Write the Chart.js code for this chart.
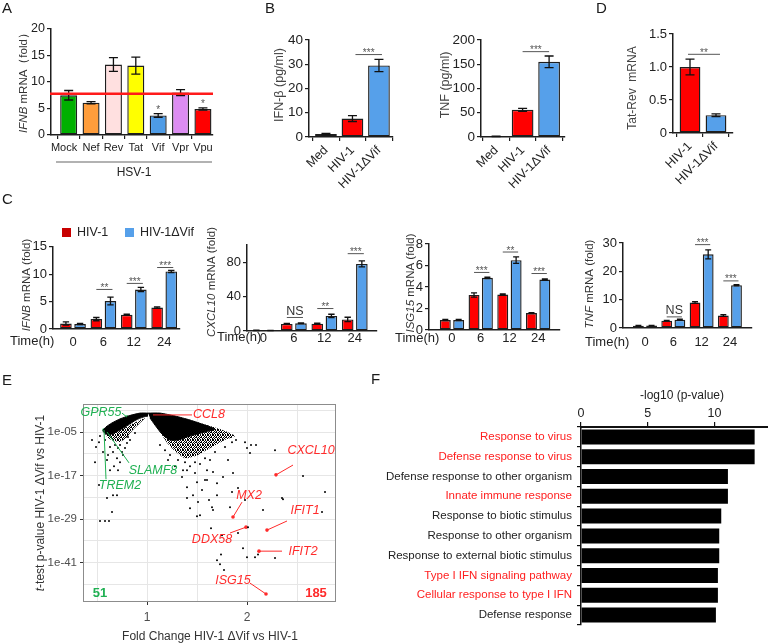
<!DOCTYPE html>
<html>
<head>
<meta charset="utf-8">
<title>HIV-1 Vif and innate responses</title>
<script src="https://cdn.jsdelivr.net/npm/chart.js@4.4.1/dist/chart.umd.min.js"></script>
<style>
  html, body { margin: 0; padding: 0; background: #fff; }
  #fig { position: relative; width: 768px; height: 644px; overflow: hidden; font-family: "Liberation Sans", Arial, sans-serif; }
  #fig canvas { position: absolute; left: 0; top: 0; }
  .tag { position: absolute; font-size: 15px; line-height: 15px; color: #1a1a1a; }
</style>
</head>
<body>
<div id="fig">
  <canvas id="chartA" width="768" height="644"></canvas>
  <canvas id="chartB1" width="768" height="644"></canvas>
  <canvas id="chartB2" width="768" height="644"></canvas>
  <canvas id="chartD" width="768" height="644"></canvas>
  <canvas id="chartC1" width="768" height="644"></canvas>
  <canvas id="chartC2" width="768" height="644"></canvas>
  <canvas id="chartC3" width="768" height="644"></canvas>
  <canvas id="chartC4" width="768" height="644"></canvas>
  <canvas id="chartE" width="768" height="644"></canvas>
  <canvas id="chartF" width="768" height="644"></canvas>
  <div class="tag" style="left:2px;top:0px">A</div>
  <div class="tag" style="left:265px;top:0px">B</div>
  <div class="tag" style="left:596px;top:0px">D</div>
  <div class="tag" style="left:2px;top:191px">C</div>
  <div class="tag" style="left:2px;top:372px">E</div>
  <div class="tag" style="left:371px;top:371px">F</div>
</div>
<script>
// ═══ Data ═══

// A — IFNB after HSV-1, single accessory proteins
const aCats = ['Mock', 'Nef', 'Rev', 'Tat', 'Vif', 'Vpr', 'Vpu'];
const aFold = [7.5, 6.1, 13.3, 13.1, 3.7, 8.0, 4.9];
const aSem = [0.9, 0.2, 1.3, 1.6, 0.35, 0.55, 0.2];
const aStars = ['', '', '', '', '*', '', '*'];
const aMockLevel = 7.8;

// B — secreted cytokines
const bCats = ['Med', 'HIV-1', 'HIV-1ΔVif'];
const bIfnb = [1.2, 7.6, 29.5];
const bIfnbSem = [0.3, 1.2, 2.5];
const bTnf = [1.5, 56, 155];
const bTnfSem = [0.5, 3, 12];

// D — Tat-Rev transcripts
const dCats = ['HIV-1', 'HIV-1ΔVif'];
const dTatRev = [1.0, 0.27];
const dTatRevSem = [0.12, 0.02];

// C — time course (HIV-1 vs HIV-1ΔVif)
const cTimes = ['0', '6', '12', '24'];
const cIfnbWt = [1.0, 1.8, 2.6, 3.9];
const cIfnbWtSem = [0.3, 0.3, 0.1, 0.15];
const cIfnbDv = [0.9, 5.1, 7.2, 10.5];
const cIfnbDvSem = [0.1, 0.7, 0.4, 0.2];
const cIfnbSig = ['', '**', '***', '***'];
const cIfnbSigAt = [0, 7.3, 8.4, 11.3];

const cCxclWt = [0.8, 8.2, 8.5, 13.5];
const cCxclWtSem = [0.2, 0.5, 0.5, 2.5];
const cCxclDv = [0.6, 9.0, 17.5, 78];
const cCxclDvSem = [0.1, 0.5, 2, 3.5];
const cCxclSig = ['', 'NS', '**', '***'];
const cCxclSigAt = [0, 16.3, 26.7, 90.5];

const cIsgWt = [0.93, 3.26, 3.3, 1.57];
const cIsgWtSem = [0.06, 0.2, 0.05, 0.05];
const cIsgDv = [0.93, 4.85, 6.5, 4.7];
const cIsgDvSem = [0.05, 0.06, 0.3, 0.06];
const cIsgSig = ['', '***', '**', '***'];
const cIsgSigAt = [0, 5.4, 7.3, 5.3];

const cTnfWt = [0.8, 2.6, 9.0, 4.4];
const cTnfWtSem = [0.1, 0.1, 0.3, 0.3];
const cTnfDv = [0.85, 2.9, 26, 15.1];
const cTnfDvSem = [0.1, 0.2, 1.6, 0.2];
const cTnfSig = ['', 'NS', '***', '***'];
const cTnfSigAt = [0, 4.1, 29.6, 16.8];

// E — volcano: fold change vs log10 t-test p-value
// saturated core of the cloud (two arms) and the dotted fans around it
const eLeftCoreFC = [1.01, 0.93, 0.83, 0.73, 0.65, 0.59, 0.56, 0.59, 0.65, 0.73, 0.81, 0.89, 0.96, 1.01];
const eLeftCoreLogP = [0.2, 0.2, -0.45, -1.4, -2.5, -3.6, -4.7, -5.55, -5.55, -4.45, -3.1, -1.7, -0.9, -0.6];
const eLeftFanFC = [0.57, 0.61, 0.67, 0.73, 0.79, 0.85, 0.92, 0.98, 0.91, 0.81, 0.71, 0.63];
const eLeftFanLogP = [-5.0, -6.65, -7.5, -7.75, -6.65, -4.7, -2.8, -1.15, -2.0, -3.35, -4.7, -5.55];
const eRightCoreFC = [1.01, 1.13, 1.28, 1.43, 1.58, 1.68, 1.58, 1.43, 1.31, 1.23, 1.15, 1.08, 1.03];
const eRightCoreLogP = [0.2, 0.2, -0.6, -1.7, -3.1, -4.2, -5.0, -6.1, -7.2, -7.2, -5.55, -3.1, -1.15];
const eRightFanFC = [1.28, 1.53, 1.73, 1.88, 1.78, 1.65, 1.51, 1.38, 1.29, 1.21, 1.13, 1.07];
const eRightFanLogP = [-0.9, -2.5, -4.2, -6.1, -7.2, -9.1, -11.3, -12.2, -10.5, -8.3, -5.0, -2.25];
// scattered genes
const eDotFC = [0.49, 0.52, 0.48, 0.60, 0.56, 0.63, 0.66, 0.68, 0.71, 0.73, 0.75, 0.78, 0.80, 0.83, 0.70, 0.73, 0.67, 0.63, 0.71, 0.76,
  0.58, 0.53, 0.45, 0.61, 0.52, 0.60, 0.66, 0.70, 0.65, 0.53, 0.58, 0.62, 0.88, 0.81,
  1.89, 1.85, 1.78, 1.68, 1.58, 1.48, 1.38, 1.31, 1.43, 1.53, 1.63, 1.23, 1.18, 1.13, 1.36, 1.40, 1.48, 1.60, 1.66, 1.76,
  1.86, 1.35, 1.50, 1.60, 1.70, 1.40, 1.91, 1.85, 1.46, 1.70, 1.40, 1.62, 1.51, 1.65, 1.66, 1.53, 1.50, 1.64, 1.91, 1.75,
  1.96, 2.08, 2.11, 2.00, 1.74, 1.70, 1.73, 1.77, 1.98, 2.00, 2.03, 2.04, 2.09, 2.28, 2.56, 2.78, 2.35, 2.36, 2.16, 2.75,
  2.28, 1.43, 1.98, 2.01, 1.55, 1.58, 1.83, 1.81, 1.28, 1.21];
const eDotLogP = [-9.1, -7.8, -13.3, -12.7, -10.5, -9.1, -10.5, -8.6, -9.4, -8.6, -10.5, -9.4, -8.0, -7.2, -12.2, -13.3, -14.4, -15.5, -15.5, -11.3,
  -7.2, -6.1, -7.2, -11.3, -19.6, -23.2, -22.4, -22.4, -27.0, -29.5, -29.5, -29.5, -5.3, -6.4,
  -7.2, -7.8, -9.1, -10.5, -12.2, -13.3, -13.3, -12.7, -14.4, -13.8, -12.7, -11.3, -10.0, -8.6, -15.5, -15.5, -16.3, -15.5, -16.0, -17.4,
  -16.3, -17.4, -18.8, -18.2, -19.1, -20.2, -20.4, -21.5, -22.4, -22.4, -23.2, -23.7, -24.3, -25.7, -26.5, -27.9, -28.2, -31.5, -32.8, -33.4,
  -37.0, -39.5, -38.7, -39.5, -38.7, -40.3, -41.4, -43.0, -7.8, -9.4, -10.8, -8.6, -8.6, -10.0, -17.1, -21.5, -23.2, -23.5, -26.5, -27.0,
  -39.7, -26.0, -23.7, -31.2, -21.0, -18.2, -25.7, -12.7, -14.4, -12.7];
// named genes
const eGenes = ['CCL8', 'MX2', 'DDX58', 'IFIT1', 'IFIT2', 'ISG15', 'CXCL10', 'GPR55', 'SLAMF8', 'TREM2'];
const eGeneFC = [1.06, 1.86, 1.99, 2.20, 2.12, 2.19, 2.29, 0.80, 0.60, 0.57];
const eGeneLogP = [-0.3, -28.4, -31.2, -32.0, -37.8, -49.6, -16.8, -0.9, -5.0, -4.45];
const eGeneUp = [true, true, true, true, true, true, true, false, false, false];
const eCountDown = '51';
const eCountUp = '185';
const eXGrid = [0.5, 1, 1.5, 2, 2.5];
const eXLabels = [1, 2];
const eYGrid = [-47, -41, -35, -29, -23, -17, -11, -5, 1];
const eYLabels = [-41, -29, -17, -5];

// F — GO enrichment
const fTerms = ['Response to virus', 'Defense response to virus', 'Defense response to other organism',
  'Innate immune response', 'Response to biotic stimulus', 'Response to other organism',
  'Response to external biotic stimulus', 'Type I IFN signaling pathway', 'Cellular response to type I IFN',
  'Defense response'];
const fLogP = [13.0, 13.0, 11.0, 11.0, 10.5, 10.35, 10.35, 10.25, 10.25, 10.1];
const fIfnRelated = [true, true, false, true, false, false, false, true, true, false];
const fTicks = [0, 5, 10];

// ═══ Style ═══
const FONT = '"Liberation Sans", Arial, sans-serif';
const COLORS = {
  axis: '#1e1e1e',
  text: '#222',
  title: '#333',
  wt: '#ff0000',
  wtKey: '#c80000',
  dvif: '#56a0ea',
  aBars: ['#00b000', '#ff9d3c', '#ffe0e0', '#ffff00', '#4d9be6', '#dc8cf2', '#ff0000'],
  bBars: ['#ffff99', '#ff0000', '#56a0ea'],
  up: '#ff2b2b',
  down: '#1fb052',
  grid: '#e6e6e6',
  frame: '#8c8c8c',
};

Chart.defaults.font.family = FONT;
Chart.defaults.color = COLORS.text;
Chart.defaults.animation = false;
Chart.defaults.plugins.legend.display = false;
Chart.defaults.plugins.tooltip.enabled = false;

// ─── helpers ───
function richText(ctx, segs, x, y, o = {}) {
  const size = o.size || 12;
  ctx.save();
  ctx.translate(x, y);
  ctx.rotate(o.rot || 0);
  ctx.textBaseline = 'middle';
  ctx.textAlign = 'left';
  ctx.fillStyle = o.color || COLORS.title;
  const fonts = segs.map(s => (s[1] ? 'italic ' : '') + (o.bold ? 'bold ' : '') + size + 'px ' + FONT);
  let total = 0;
  const widths = segs.map((s, i) => { ctx.font = fonts[i]; const w = ctx.measureText(s[0]).width; total += w; return w; });
  let cx = o.align === 'left' ? 0 : o.align === 'right' ? -total : -total / 2;
  segs.forEach((s, i) => { ctx.font = fonts[i]; ctx.fillText(s[0], cx, 0); cx += widths[i]; });
  ctx.restore();
}

function drawSig(ctx, x1, x2, y, text) {
  ctx.save();
  ctx.strokeStyle = '#555';
  ctx.lineWidth = 1;
  ctx.beginPath();
  ctx.moveTo(x1, y + 0.5);
  ctx.lineTo(x2, y + 0.5);
  ctx.stroke();
  ctx.textAlign = 'center';
  ctx.textBaseline = 'alphabetic';
  if (text === 'NS') {
    ctx.fillStyle = '#333';
    ctx.font = '12.5px ' + FONT;
    ctx.fillText(text, (x1 + x2) / 2, y - 2);
  } else {
    ctx.fillStyle = '#555';
    ctx.font = '10px ' + FONT;
    ctx.fillText(text, (x1 + x2) / 2, y + 2);
  }
  ctx.restore();
}

function errorBars(sems) {
  return {
    id: 'errorBars',
    afterDatasetsDraw(chart) {
      const ctx = chart.ctx, y = chart.scales.y;
      sems.forEach((errs, di) => {
        const meta = chart.getDatasetMeta(di);
        const data = chart.data.datasets[di].data;
        meta.data.forEach((bar, i) => {
          const v = data[i].y, e = errs[i];
          if (!e) return;
          const top = y.getPixelForValue(v + e);
          const bot = y.getPixelForValue(Math.max(0, v - e));
          const cap = Math.min(9, bar.width * 0.55) / 2;
          ctx.save();
          ctx.strokeStyle = '#111';
          ctx.lineWidth = 1.3;
          ctx.beginPath();
          ctx.moveTo(bar.x, top); ctx.lineTo(bar.x, bot);
          ctx.moveTo(bar.x - cap, top); ctx.lineTo(bar.x + cap, top);
          ctx.moveTo(bar.x - cap, bot); ctx.lineTo(bar.x + cap, bot);
          ctx.stroke();
          ctx.restore();
        });
      });
    }
  };
}

function groupSig(marks, levels) {
  return {
    id: 'groupSig',
    afterDatasetsDraw(chart) {
      const ctx = chart.ctx, y = chart.scales.y;
      const m0 = chart.getDatasetMeta(0).data, m1 = chart.getDatasetMeta(1).data;
      marks.forEach((t, g) => {
        if (!t) return;
        drawSig(ctx, m0[g].x, m1[g].x + 2, y.getPixelForValue(levels[g]), t);
      });
    }
  };
}

function barSet(values, color, extra) {
  return Object.assign({
    data: values.map((v, i) => ({ x: i, y: v })),
    backgroundColor: color,
    borderColor: COLORS.axis,
    borderWidth: 1.4,
    borderSkipped: false,
  }, extra);
}

// plot = page coordinates of the plotting area (canvases cover the whole page)
function barPanel(canvasId, cfg) {
  const p = cfg.plot;
  return new Chart(document.getElementById(canvasId), {
    type: 'bar',
    data: { datasets: cfg.datasets },
    options: {
      responsive: false,
      layout: { autoPadding: false, padding: { left: 0, top: p.t, right: 768 - p.r, bottom: 0 } },
      scales: {
        x: {
          type: 'linear', min: cfg.xMin, max: cfg.xMax, offset: false,
          afterFit: s => { s.height = 644 - p.b; },
          afterBuildTicks: s => { s.ticks = cfg.cats.map((c, i) => ({ value: i })); },
          grid: { drawOnChartArea: false, drawTicks: !!cfg.xTickMarks, tickLength: 4, color: COLORS.axis, lineWidth: 1.2 },
          border: { color: COLORS.axis, width: 1.5 },
          ticks: {
            autoSkip: false, callback: cfg.xLabel || (v => cfg.cats[v]), font: { size: cfg.xFont }, color: COLORS.text,
            padding: cfg.xPad, minRotation: cfg.rot || 0, maxRotation: cfg.rot || 0
          }
        },
        y: {
          min: 0, max: cfg.yMax,
          afterFit: s => { s.width = p.l; },
          ticks: { stepSize: cfg.yStep, font: { size: cfg.yFont }, color: COLORS.text, padding: 2, callback: cfg.yFmt || (v => v) },
          grid: { drawOnChartArea: false, tickLength: 4, color: COLORS.axis, lineWidth: 1.2 },
          border: { color: COLORS.axis, width: 1.5 }
        }
      }
    },
    plugins: cfg.plugins
  });
}

// ─── A ─── //
barPanel('chartA', {
  plot: { l: 51, r: 213, t: 29, b: 135 },
  cats: aCats, xMin: -0.79, xMax: 6.45, xTickMarks: true, xFont: 11, xPad: 2,
  // first label sits a little left of its bar in the original
  xLabel: v => (v === 0 ? aCats[0] + '   ' : aCats[v]),
  yMax: 20, yStep: 5, yFont: 12.5,
  datasets: [barSet(aFold, COLORS.aBars, { barPercentage: 0.76, categoryPercentage: 1 })],
  plugins: [errorBars([aSem]), {
    id: 'aDeco',
    afterDatasetsDraw(chart) {
      const { ctx, scales: { x, y } } = chart;
      const ly = y.getPixelForValue(aMockLevel);
      ctx.save();
      ctx.strokeStyle = '#ff1a1a';
      ctx.lineWidth = 2.5;
      ctx.beginPath(); ctx.moveTo(50, ly); ctx.lineTo(213, ly); ctx.stroke();
      ctx.fillStyle = '#555';
      ctx.font = '10px ' + FONT;
      ctx.textAlign = 'center';
      aStars.forEach((s, i) => {
        if (s) ctx.fillText(s, x.getPixelForValue(i), y.getPixelForValue(aFold[i] + aSem[i]) - 1);
      });
      ctx.strokeStyle = '#999';
      ctx.lineWidth = 1.5;
      ctx.beginPath(); ctx.moveTo(56, 162); ctx.lineTo(212, 162); ctx.stroke();
      ctx.restore();
      richText(ctx, [['HSV-1']], 134, 173, { size: 12, color: COLORS.text });
      richText(ctx, [['IFNB', true], [' mRNA（fold）']], 24, 80, { size: 11.5, rot: -Math.PI / 2 });
    }
  }]
});

// ─── B ─── //
const yInt = v => v;
barPanel('chartB1', {
  plot: { l: 309, r: 393, t: 40, b: 137 },
  cats: bCats, xMin: -0.64, xMax: 2.53, xTickMarks: true, xFont: 12.5, xPad: 2, rot: 45,
  yMax: 40, yStep: 10, yFont: 13.5, yFmt: yInt,
  datasets: [barSet(bIfnb, COLORS.bBars, { barPercentage: 0.82, categoryPercentage: 1 })],
  plugins: [errorBars([bIfnbSem]), {
    id: 'b1Deco',
    afterDatasetsDraw(chart) {
      const { ctx, scales: { x, y } } = chart;
      drawSig(ctx, x.getPixelForValue(1) + 3, x.getPixelForValue(2) + 3, y.getPixelForValue(34.2), '***');
      richText(ctx, [['IFN-β (pg/ml)']], 280, 85, { size: 12.5, color: '#444', rot: -Math.PI / 2 });
    }
  }]
});

barPanel('chartB2', {
  plot: { l: 481, r: 565, t: 40, b: 137 },
  cats: bCats, xMin: -0.57, xMax: 2.6, xTickMarks: true, xFont: 12.5, xPad: 2, rot: 45,
  yMax: 200, yStep: 50, yFont: 13.5, yFmt: yInt,
  datasets: [barSet(bTnf, COLORS.bBars, { barPercentage: 0.82, categoryPercentage: 1 })],
  plugins: [errorBars([bTnfSem]), {
    id: 'b2Deco',
    afterDatasetsDraw(chart) {
      const { ctx, scales: { x, y } } = chart;
      drawSig(ctx, x.getPixelForValue(1), x.getPixelForValue(2), y.getPixelForValue(177), '***');
      richText(ctx, [['TNF (pg/ml)']], 446, 85, { size: 12.5, color: '#444', rot: -Math.PI / 2 });
    }
  }]
});

// ─── D ─── //
barPanel('chartD', {
  plot: { l: 673, r: 733, t: 34, b: 133 },
  cats: dCats, xMin: -0.654, xMax: 1.654, xTickMarks: true, xFont: 12.5, xPad: 2, rot: 45,
  yMax: 1.5, yStep: 0.5, yFont: 13, yFmt: v => (v === 0 ? '0' : v.toFixed(1)),
  datasets: [barSet(dTatRev, [COLORS.wt, COLORS.dvif], { barPercentage: 0.8, categoryPercentage: 1 })],
  plugins: [errorBars([dTatRevSem]), {
    id: 'dDeco',
    afterDatasetsDraw(chart) {
      const { ctx, scales: { x, y } } = chart;
      drawSig(ctx, x.getPixelForValue(0) - 2, x.getPixelForValue(1) + 4, y.getPixelForValue(1.2), '**');
      richText(ctx, [['Tat-Rev  mRNA']], 633, 88, { size: 12, color: '#444', rot: -Math.PI / 2 });
    }
  }]
});

// ─── C ─── //
const C_BAR = { barPercentage: 0.82, categoryPercentage: 0.93 };
function timePanel(id, plot, xMin, xMax, yMax, yStep, xPad, wt, wtSem, dv, dvSem, sig, sigAt, gene, titleX, titleY, timeX, timeY, extra) {
  return barPanel(id, {
    plot, cats: cTimes, xMin, xMax, xTickMarks: false, xFont: 13, xPad,
    yMax, yStep, yFont: 13,
    datasets: [barSet(wt, COLORS.wt, C_BAR), barSet(dv, COLORS.dvif, C_BAR)],
    plugins: [errorBars([wtSem, dvSem]), groupSig(sig, sigAt), {
      id: id + 'Deco',
      afterDraw(chart) {
        const ctx = chart.ctx;
        richText(ctx, [[gene, true], [' mRNA (fold)']], titleX, titleY, { size: 11.5, rot: -Math.PI / 2 });
        richText(ctx, [['Time(h)']], timeX, timeY, { size: 13, color: COLORS.text, align: 'left' });
        if (extra) extra(ctx);
      }
    }]
  });
}

timePanel('chartC1', { l: 53, r: 180, t: 246.7, b: 329 }, -0.658, 3.52, 15, 5, 6,
  cIfnbWt, cIfnbWtSem, cIfnbDv, cIfnbDvSem, cIfnbSig, cIfnbSigAt, 'IFNB', 27, 285, 10, 341.5,
  ctx => {
    ctx.fillStyle = COLORS.wtKey; ctx.fillRect(62, 228, 9, 9);
    ctx.fillStyle = COLORS.dvif; ctx.fillRect(125, 228, 9, 9);
    richText(ctx, [['HIV-1']], 77, 232.5, { size: 12.5, color: COLORS.text, align: 'left' });
    richText(ctx, [['HIV-1ΔVif']], 140, 232.5, { size: 12.5, color: COLORS.text, align: 'left' });
  });
timePanel('chartC2', { l: 247, r: 377, t: 245, b: 331 }, -0.54, 3.73, 100, 20, 0,
  cCxclWt, cCxclWtSem, cCxclDv, cCxclDvSem, cCxclSig, cCxclSigAt, 'CXCL10', 212, 282, 217, 337);
timePanel('chartC3', { l: 429, r: 560, t: 244, b: 330 }, -0.8, 3.76, 8, 2, 1,
  cIsgWt, cIsgWtSem, cIsgDv, cIsgDvSem, cIsgSig, cIsgSigAt, 'ISG15', 411, 283, 395, 338);
timePanel('chartC4', { l: 623, r: 752, t: 243, b: 328 }, -0.777, 3.78, 30, 10, 7,
  cTnfWt, cTnfWtSem, cTnfDv, cTnfDvSem, cTnfSig, cTnfSigAt, 'TNF', 590, 284, 585, 342);

// ─── E ─── //
const pts = (xs, ys) => xs.map((x, i) => ({ x, y: ys[i] }));

// irregular stipple texture standing in for the thousands of overlapping gene dots
const STIPPLE_ROWS = ['X.XX.', '.X..X', 'XX.X.', '..X.X', 'X.XX.'];
const stippleTile = document.createElement('canvas');
stippleTile.width = 5;
stippleTile.height = 5;
const tctx = stippleTile.getContext('2d');
tctx.fillStyle = '#000';
STIPPLE_ROWS.forEach((row, r) => [...row].forEach((c, k) => { if (c === 'X') tctx.fillRect(k, r, 1, 1); }));
const stipple = tctx.createPattern(stippleTile, 'repeat');

const eLabelLayout = {
  CCL8: { tx: 1.46, ty: -0.3, align: 'left', lx: 1.45, ly: -0.3 },
  MX2: { tx: 2.02, ty: -22.4, lx: 1.95, ly: -24.3 },
  DDX58: { tx: 1.65, ty: -34.5, lx: 1.83, ly: -32.8 },
  IFIT1: { tx: 2.58, ty: -26.5, lx: 2.40, ly: -29.5 },
  IFIT2: { tx: 2.56, ty: -37.8, lx: 2.35, ly: -37.8 },
  ISG15: { tx: 1.86, ty: -45.8, lx: 2.03, ly: -46.6 },
  CXCL10: { tx: 2.64, ty: -10.2, lx: 2.46, ly: -14.1 },
  GPR55: { tx: 0.54, ty: 0.5, lx: 0.75, ly: 0.2 },
  SLAMF8: { tx: 1.06, ty: -15.7, lx: 0.82, ly: -13.5 },
  TREM2: { tx: 0.73, ty: -19.6, lx: 0.59, ly: -18.0 },
};
const ePlot = { l: 83, r: 336, t: 404, b: 602 };
const coreStyle = { type: 'line', fill: 'shape', backgroundColor: '#000', borderColor: '#000', borderWidth: 1, pointRadius: 0, tension: 0.2 };
const fanStyle = { type: 'line', fill: 'shape', backgroundColor: stipple, borderColor: 'rgba(0,0,0,0)', borderWidth: 0, pointRadius: 0, tension: 0.2 };

new Chart(document.getElementById('chartE'), {
  type: 'scatter',
  data: {
    datasets: [
      Object.assign({ data: pts(eLeftFanFC, eLeftFanLogP) }, fanStyle),
      Object.assign({ data: pts(eRightFanFC, eRightFanLogP) }, fanStyle),
      Object.assign({ data: pts(eLeftCoreFC, eLeftCoreLogP) }, coreStyle),
      Object.assign({ data: pts(eRightCoreFC, eRightCoreLogP) }, coreStyle),
      { data: pts(eDotFC, eDotLogP), pointRadius: 1, backgroundColor: '#000', borderWidth: 0 },
      {
        data: pts(eGeneFC, eGeneLogP), pointRadius: 1.8, borderWidth: 0,
        backgroundColor: eGeneUp.map(u => (u ? COLORS.up : COLORS.down))
      }
    ]
  },
  options: {
    responsive: false,
    layout: { autoPadding: false, padding: { left: 0, top: ePlot.t, right: 768 - ePlot.r, bottom: 0 } },
    scales: {
      x: {
        type: 'linear', min: 0.36, max: 2.89,
        afterFit: s => { s.height = 644 - ePlot.b; },
        afterBuildTicks: s => { s.ticks = eXGrid.map(v => ({ value: v })); },
        grid: { color: COLORS.grid, tickLength: 3, tickColor: c => (c.tick && eXLabels.includes(c.tick.value) ? '#333' : 'rgba(0,0,0,0)') },
        border: { display: false },
        ticks: { autoSkip: false, maxRotation: 0, callback: v => (eXLabels.includes(v) ? String(v) : ''), font: { size: 12 }, color: '#4d4d4d', padding: 5 }
      },
      y: {
        min: -51.8, max: 2.71,
        afterFit: s => { s.width = ePlot.l; },
        afterBuildTicks: s => { s.ticks = eYGrid.map(v => ({ value: v })); },
        grid: { color: COLORS.grid, tickLength: 3, tickColor: c => (c.tick && eYLabels.includes(c.tick.value) ? '#333' : 'rgba(0,0,0,0)') },
        border: { display: false },
        ticks: { autoSkip: false, callback: v => (eYLabels.includes(v) ? '1e-' + String(-v).padStart(2, '0') : ''), font: { size: 11.5 }, color: '#4d4d4d', padding: 3 }
      }
    }
  },
  plugins: [{
    id: 'eDeco',
    afterDraw(chart) {
      const { ctx, chartArea: a, scales: { x, y } } = chart;
      ctx.save();
      ctx.strokeStyle = COLORS.frame;
      ctx.lineWidth = 1;
      ctx.strokeRect(a.left + 0.5, a.top + 0.5, a.width - 1, a.height - 1);
      ctx.restore();
      eGenes.forEach((g, i) => {
        const L = eLabelLayout[g];
        const col = eGeneUp[i] ? COLORS.up : COLORS.down;
        ctx.save();
        ctx.strokeStyle = col;
        ctx.lineWidth = 1;
        ctx.beginPath();
        ctx.moveTo(x.getPixelForValue(eGeneFC[i]), y.getPixelForValue(eGeneLogP[i]));
        ctx.lineTo(x.getPixelForValue(L.lx), y.getPixelForValue(L.ly));
        ctx.stroke();
        ctx.restore();
        richText(ctx, [[g, true]], x.getPixelForValue(L.tx), y.getPixelForValue(L.ty), { size: 12.5, color: col, align: L.align || 'center' });
      });
      richText(ctx, [[eCountDown]], 100, 593, { size: 13, bold: true, color: COLORS.down });
      richText(ctx, [[eCountUp]], 316, 593, { size: 13, bold: true, color: COLORS.up });
      richText(ctx, [['t', true], ['-test p-value HIV-1 ΔVif vs HIV-1']], 41, 503, { size: 12, rot: -Math.PI / 2 });
      richText(ctx, [['Fold Change HIV-1 ΔVif vs HIV-1']], 210, 637, { size: 12 });
    }
  }]
});

// ─── F ─── //
const fPlot = { l: 581, r: 768, t: 427, b: 625 };
new Chart(document.getElementById('chartF'), {
  type: 'bar',
  data: {
    labels: fTerms,
    datasets: [{ data: fLogP, backgroundColor: '#000', barPercentage: 0.76, categoryPercentage: 1 }]
  },
  options: {
    indexAxis: 'y',
    responsive: false,
    layout: { autoPadding: false, padding: { left: 0, top: 0, right: 768 - fPlot.r, bottom: 644 - fPlot.b } },
    scales: {
      x: {
        position: 'top', min: 0, max: 14,
        afterFit: s => { s.height = fPlot.t; },
        afterBuildTicks: s => { s.ticks = fTicks.map(v => ({ value: v })); },
        grid: { drawOnChartArea: false, tickLength: 5, color: '#111', lineWidth: 1.2 },
        border: { color: '#111', width: 2 },
        ticks: { font: { size: 12.5 }, color: COLORS.text, padding: 1 }
      },
      y: {
        afterFit: s => { s.width = fPlot.l; },
        grid: { drawOnChartArea: false, tickLength: 4, color: '#111', lineWidth: 1.2 },
        border: { color: '#111', width: 1.5 },
        ticks: { autoSkip: false, font: { size: 11.5 }, padding: 5, color: c => (fIfnRelated[c.index] ? '#ff2020' : '#222') }
      }
    }
  },
  plugins: [{
    id: 'fDeco',
    afterDraw(chart) {
      richText(chart.ctx, [['-log10 (p-value)']], 682, 396, { size: 12, color: COLORS.text });
    }
  }]
});
</script>
</body>
</html>
